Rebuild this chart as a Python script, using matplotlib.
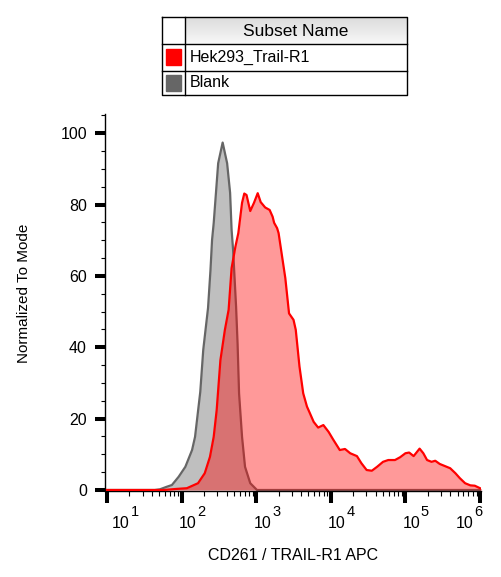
import matplotlib
matplotlib.use('Agg')
import matplotlib.pyplot as plt
import numpy as np
from matplotlib.ticker import MultipleLocator, LogLocator, NullFormatter, FixedLocator

plt.rcParams['font.family'] = ['Liberation Sans', 'DejaVu Sans']

# ---------------- data ----------------
blank_log = [1.00, 1.64, 1.71, 1.80, 1.87, 1.96, 2.05, 2.14, 2.18, 2.25, 2.29, 2.354, 2.387,
             2.408, 2.43, 2.49, 2.55, 2.61, 2.65, 2.67, 2.69, 2.73, 2.75, 2.77, 2.81, 2.85,
             2.92, 3.01, 6.02]
blank_pct = [0, 0, 0.2, 0.9, 1.4, 3.7, 6.5, 11.2, 14.9, 27.5, 39.3, 51.0, 61.7,
             70.1, 74.8, 91.6, 97.4, 91.6, 83.3, 72.9, 67.3, 51.4, 41.1, 27.1, 14.9, 6.5,
             1.9, 0, 0]

trail_log = [1.00, 1.76, 1.93, 2.07, 2.22, 2.31, 2.38, 2.43, 2.47, 2.52, 2.58, 2.63, 2.67,
             2.72, 2.76, 2.81, 2.84, 2.87, 2.92, 2.97, 3.02, 3.06, 3.12, 3.18, 3.22, 3.24,
             3.28, 3.30, 3.34, 3.39, 3.44, 3.50, 3.53, 3.58, 3.63, 3.68, 3.72, 3.77, 3.83,
             3.90, 3.97, 4.03, 4.12, 4.19, 4.26, 4.35, 4.41, 4.48, 4.55, 4.62, 4.70, 4.77,
             4.86, 4.93, 5.00, 5.05, 5.11, 5.19, 5.24, 5.29, 5.35, 5.40, 5.46, 5.53, 5.60,
             5.67, 5.73, 5.80, 5.87, 5.93, 6.00, 6.04]
trail_pct = [0, 0, 0.3, 0.5, 1.9, 4.7, 9.3, 14.9, 22.4, 36.4, 44.9, 50.5, 62.2,
             68.1, 72.0, 80.5, 83.1, 82.7, 78.2, 80.5, 83.2, 80.7, 79.2, 78.5, 76.6, 74.9,
             73.4, 72.0, 66.4, 59.4, 49.5, 47.7, 44.9, 34.6, 27.1, 23.4, 21.5, 19.1, 17.5,
             18.2, 16.3, 14.2, 11.2, 11.5, 10.3, 9.5, 7.5, 5.6, 5.4, 6.5, 7.9, 8.4,
             8.4, 9.2, 10.3, 10.5, 9.5, 11.6, 10.3, 8.4, 7.9, 8.2, 7.3, 6.7, 6.1,
             4.7, 3.3, 1.9, 1.3, 1.2, 0.5, 0.2]

y_ticks = [0, 20, 40, 60, 80, 100]
x_decades = [1, 2, 3, 4, 5, 6]
legend_names = ['Hek293_Trail-R1', 'Blank']
legend_colors = ['#ff0000', '#666666']
legend_header = 'Subset Name'
x_label = 'CD261 / TRAIL-R1 APC'
y_label = 'Normalized To Mode'

# ---------------- figure ----------------
W, H = 502, 577
fig = plt.figure(figsize=(W / 100, H / 100), dpi=100)


def fx(px):
    return px / W


def fy(py):
    return 1 - py / H


ax = fig.add_axes([fx(105), fy(491), fx(481) - fx(105), fy(114) - fy(491)])

bx = np.power(10.0, blank_log)
tx = np.power(10.0, trail_log)

ax.fill_between(bx, 0, blank_pct, color='#bfbfbf', lw=0, zorder=1)
ax.plot(bx, blank_pct, color='#666666', lw=1.6, zorder=2)
ax.fill_between(tx, 0, trail_pct, color='#ff0000', alpha=0.4, lw=0, zorder=3)
ax.plot(tx, trail_pct, color='#ff0000', lw=1.6, zorder=4)

ax.set_xscale('log')
ax.set_xlim(10 ** 0.973, 10 ** 6.013)
ax.set_ylim(-0.28, 105.4)

for s in ['top', 'right']:
    ax.spines[s].set_visible(False)
for s in ['left', 'bottom']:
    ax.spines[s].set_linewidth(1.0)

ax.yaxis.set_major_locator(FixedLocator(y_ticks))
ax.set_yticklabels([str(v) for v in y_ticks])
ax.yaxis.set_minor_locator(MultipleLocator(5))
ax.tick_params(axis='y', which='major', length=7.2, width=2.9, labelsize=11.5, pad=5.8)
ax.tick_params(axis='y', which='minor', length=3.0, width=0.8)

ax.xaxis.set_major_locator(FixedLocator([10.0 ** k for k in x_decades]))
ax.xaxis.set_minor_locator(LogLocator(base=10, subs=np.arange(2, 10), numticks=20))
ax.xaxis.set_minor_formatter(NullFormatter())
ax.tick_params(axis='x', which='major', length=8.6, width=2.9, labelbottom=False)
ax.tick_params(axis='x', which='minor', length=3.6, width=0.8)

# decade labels "10" with raised exponent
base_dx = [14, 6, 6.5, 6, 6, -15.5]
for k, dx in zip(x_decades, base_dx):
    ax.annotate('10', xy=(10.0 ** k, 0), xycoords=('data', 'axes fraction'),
                xytext=(dx, -32.5), textcoords='offset pixels',
                ha='center', va='center', fontsize=11.5)
    ax.annotate(str(k), xy=(10.0 ** k, 0), xycoords=('data', 'axes fraction'),
                xytext=(dx + 13.5, -21), textcoords='offset pixels',
                ha='center', va='center', fontsize=10.5)

fig.text(fx(293.5), fy(555), x_label, ha='center', va='center', fontsize=11.5)
fig.text(fx(24), fy(293), y_label, ha='center', va='center', rotation=90, fontsize=11)

# ---------------- legend table ----------------
L, R, T, B = 162, 407, 17, 95
C1, R1, R2 = 185, 44, 70.7
lax = fig.add_axes([fx(L), fy(B), fx(R) - fx(L), fy(T) - fy(B)])
grad = np.linspace(0.86, 0.97, 60)[:, None]
lax.imshow(grad, extent=(C1, R, R1, T), cmap='gray', vmin=0, vmax=1,
           aspect='auto', interpolation='bilinear', zorder=0)
lax.set_xlim(L, R)
lax.set_ylim(B, T)
lax.axis('off')

lk = dict(color='black', lw=1.0, clip_on=False, zorder=3)
lax.plot([L, R, R, L, L], [T, T, B, B, T], **lk)
lax.plot([C1, C1], [T, B], **lk)
lax.plot([L, R], [R1, R1], **lk)
lax.plot([L, R], [R2, R2], **lk)

lax.text((C1 + R) / 2, (T + R1) / 2 + 0.5, legend_header, ha='center', va='center', fontsize=12.5)
row_c = [(R1 + R2) / 2, (R2 + B) / 2]
for name, col, yc in zip(legend_names, legend_colors, row_c):
    lax.add_patch(plt.Rectangle((166, yc - 8), 15, 16, color=col, zorder=2))
    lax.text(190, yc, name, ha='left', va='center', fontsize=11.5)

fig.savefig('out.png', dpi=100)
